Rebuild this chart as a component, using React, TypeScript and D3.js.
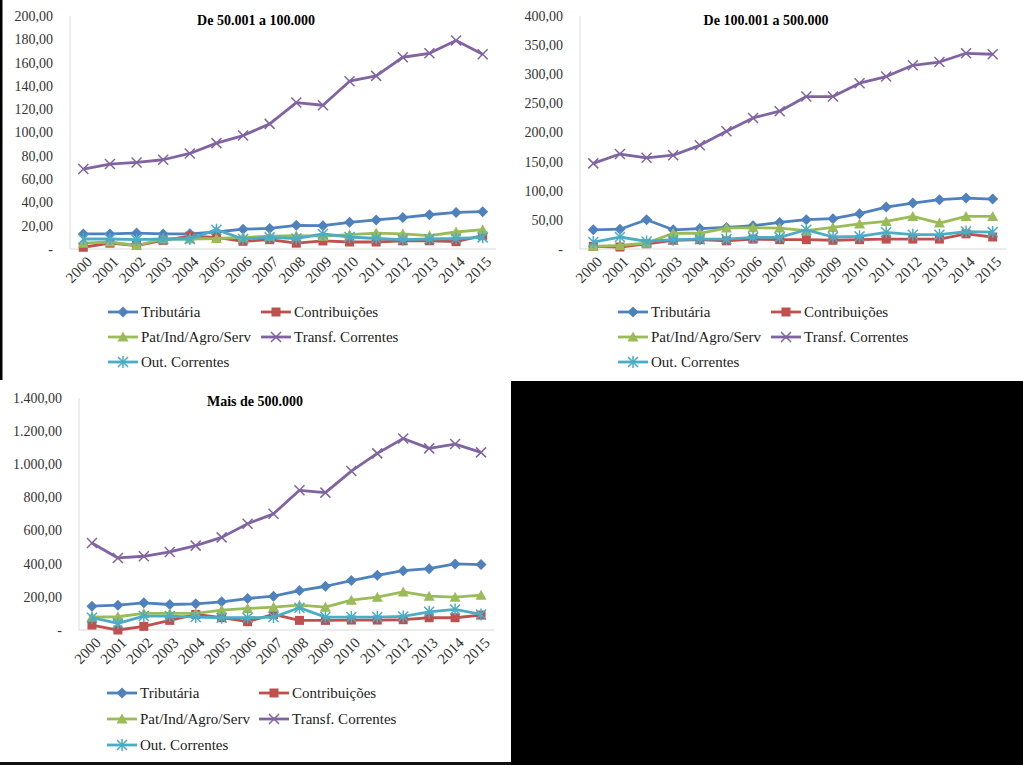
import React, { useEffect, useRef } from "react";
import * as d3 from "d3";

const years = ["2000", "2001", "2002", "2003", "2004", "2005", "2006", "2007", "2008", "2009", "2010", "2011", "2012", "2013", "2014", "2015"];

const seriesNames = ["Tributária", "Contribuições", "Pat/Ind/Agro/Serv", "Transf. Correntes", "Out. Correntes"];
const seriesColors = ["#4F81BD", "#C0504D", "#9BBB59", "#8064A2", "#4BACC6"];
const seriesMarkers = ["diamond", "square", "triangle", "x", "star"];

const titles = ["De 50.001 a 100.000", "De 100.001 a 500.000", "Mais de 500.000"];
const yMax = [200, 400, 1400];
const yStep = [20, 50, 200];

// De 50.001 a 100.000
const p1Tributaria = [12.9, 12.9, 13.7, 12.9, 13, 14.6, 17, 17.7, 20.3, 20, 22.9, 25, 27, 29.4, 31.4, 32];
const p1Contribuicoes = [1.5, 5, 3, 7.4, 11, 10, 6.6, 8, 5, 6.9, 6, 6, 7, 7, 6.3, 11.5];
const p1Pat = [5, 6, 3, 8.6, 8.6, 9, 10, 11, 11.4, 11, 12.3, 13.7, 12.9, 11.4, 14.6, 16.6];
const p1Transf = [68.6, 72.9, 74.3, 76.6, 82, 90.9, 97.4, 107.4, 125.7, 123.4, 144, 148.6, 164.6, 168, 178.9, 167.1];
const p1Out = [8.6, 8.6, 8, 8.6, 8.6, 16.6, 8.6, 10, 9, 12.9, 10.3, 9, 8, 8.6, 9, 10];

// De 100.001 a 500.000
const p2Tributaria = [33, 34, 50.3, 33, 35, 37, 40, 45.7, 50.3, 52, 60.6, 72, 78.9, 84.6, 87.4, 85.7];
const p2Contribuicoes = [4.6, 3.4, 9, 15, 16, 14, 17, 16, 16, 15, 16, 17, 17, 17, 26, 20.6];
const p2Pat = [4.6, 6, 10, 27, 27, 36, 36.6, 36, 31.4, 37, 43, 47.4, 56, 44.6, 56, 56];
const p2Transf = [147, 163, 156.6, 161, 178, 202, 225, 236.6, 261.7, 261.7, 284.6, 296, 315.4, 321, 336, 334.3];
const p2Out = [12, 20.6, 13, 16, 17, 17, 20, 20, 33, 20.6, 21.7, 28.6, 24.6, 24.6, 30, 29];

// Mais de 500.000
const p3Tributaria = [144, 150, 164, 154, 158, 170, 190, 204, 238, 264, 298, 330, 358, 370, 399, 395];
const p3Contribuicoes = [30, 0, 22, 58, 94, 74, 50, 94, 58, 58, 60, 60, 62, 74, 74, 90];
const p3Pat = [78, 80, 100, 100, 100, 120, 130, 138, 150, 138, 180, 198, 230, 204, 198, 210];
const p3Transf = [525, 435, 445, 471, 509, 559, 641, 701, 843, 829, 959, 1066, 1156, 1096, 1122, 1072];
const p3Out = [74, 40, 84, 84, 78, 74, 74, 78, 134, 78, 78, 78, 82, 110, 124, 94];

const panelData = [
  [p1Tributaria, p1Contribuicoes, p1Pat, p1Transf, p1Out],
  [p2Tributaria, p2Contribuicoes, p2Pat, p2Transf, p2Out],
  [p3Tributaria, p3Contribuicoes, p3Pat, p3Transf, p3Out],
];

// layout of each panel on the page
const layout = [
  { left: 70, right: 496, top: 16, bottom: 249, labelX: 53, titleX: 256, titleY: 25, legendY: [312, 337, 362], legendX: [108, 261] },
  { left: 580, right: 1006, top: 16, bottom: 249, labelX: 563, titleX: 766, titleY: 25, legendY: [312, 337, 362], legendX: [618, 771] },
  { left: 79, right: 494, top: 398, bottom: 630, labelX: 62, titleX: 255, titleY: 406, legendY: [693, 719, 745], legendX: [107, 259] },
];

const FONT = "Times New Roman, Liberation Serif, serif";

const fmt = (v: number) => {
  if (v === 0) return "-";
  const s = v.toFixed(2).split(".");
  return s[0].replace(/\B(?=(\d{3})+(?!\d))/g, ".") + "," + s[1];
};

const drawMarker = (g: any, type: string, x: number, y: number, color: string) => {
  if (type === "diamond") {
    g.append("path").attr("d", `M${x},${y - 5.5}L${x + 5.5},${y}L${x},${y + 5.5}L${x - 5.5},${y}Z`).attr("fill", color);
  } else if (type === "square") {
    g.append("rect").attr("x", x - 4.5).attr("y", y - 4.5).attr("width", 9).attr("height", 9).attr("fill", color);
  } else if (type === "triangle") {
    g.append("path").attr("d", `M${x},${y - 5.5}L${x + 5.5},${y + 4.5}L${x - 5.5},${y + 4.5}Z`).attr("fill", color);
  } else if (type === "x") {
    g.append("path").attr("d", `M${x - 5},${y - 5}L${x + 5},${y + 5}M${x - 5},${y + 5}L${x + 5},${y - 5}`).attr("stroke", color).attr("stroke-width", 1.5);
  } else {
    g.append("path")
      .attr("d", `M${x - 5},${y - 5}L${x + 5},${y + 5}M${x - 5},${y + 5}L${x + 5},${y - 5}M${x},${y - 6}L${x},${y + 6}`)
      .attr("stroke", color)
      .attr("stroke-width", 1.5);
  }
};

const App: React.FC = () => {
  const ref = useRef<SVGSVGElement | null>(null);

  useEffect(() => {
    if (!ref.current) return;
    const svg = d3.select(ref.current);
    svg.selectAll("*").remove();

    svg.append("rect").attr("width", 1023).attr("height", 765).attr("fill", "#fff");
    // black frame pieces of the original screenshot
    svg.append("rect").attr("x", 0).attr("y", 0).attr("width", 2.5).attr("height", 380).attr("fill", "#000");
    svg.append("rect").attr("x", 511).attr("y", 381).attr("width", 512).attr("height", 384).attr("fill", "#000");
    svg.append("rect").attr("x", 0).attr("y", 762).attr("width", 511).attr("height", 3).attr("fill", "#111");

    panelData.forEach((series, pi) => {
      const L = layout[pi];
      const g = svg.append("g").style("font-family", FONT);
      const x = d3.scalePoint<string>().domain(years).range([L.left, L.right]).padding(0.5);
      const y = d3.scaleLinear().domain([0, yMax[pi]]).range([L.bottom, L.top]);
      const ticks = d3.range(0, yMax[pi] + 0.001, yStep[pi]);

      g.selectAll("text.ytick")
        .data(ticks)
        .enter()
        .append("text")
        .attr("x", L.labelX)
        .attr("y", (d) => y(d))
        .attr("dy", "0.35em")
        .attr("text-anchor", "end")
        .attr("font-size", 14)
        .attr("fill", "#333")
        .text((d) => fmt(d));

      g.append("line").attr("x1", L.left).attr("x2", L.left).attr("y1", L.top).attr("y2", L.bottom).attr("stroke", "#D9D9D9");
      g.append("line").attr("x1", L.left).attr("x2", L.right).attr("y1", L.bottom).attr("y2", L.bottom).attr("stroke", "#D9D9D9");

      g.selectAll("text.xtick")
        .data(years)
        .enter()
        .append("text")
        .attr("transform", (d) => `translate(${(x(d) as number) + 6},${L.bottom + 10}) rotate(-45)`)
        .attr("text-anchor", "end")
        .attr("dy", "0.35em")
        .attr("font-size", 15)
        .attr("fill", "#333")
        .text((d) => d);

      g.append("text")
        .attr("x", L.titleX)
        .attr("y", L.titleY)
        .attr("text-anchor", "middle")
        .attr("font-weight", "bold")
        .attr("font-size", 14)
        .attr("fill", "#000")
        .text(titles[pi]);

      const line = d3
        .line<number>()
        .x((_, i) => x(years[i]) as number)
        .y((d) => y(d));

      series.forEach((vals, si) => {
        const sg = g.append("g");
        sg.append("path").attr("d", line(vals)).attr("fill", "none").attr("stroke", seriesColors[si]).attr("stroke-width", 2.8).attr("stroke-linejoin", "round");
        vals.forEach((v, i) => drawMarker(sg, seriesMarkers[si], x(years[i]) as number, y(v), seriesColors[si]));
      });

      // legend
      seriesNames.forEach((name, si) => {
        const lx = L.legendX[si % 2];
        const ly = L.legendY[Math.floor(si / 2)];
        const lg = g.append("g");
        lg.append("line").attr("x1", lx).attr("x2", lx + 30).attr("y1", ly).attr("y2", ly).attr("stroke", seriesColors[si]).attr("stroke-width", 2.8);
        drawMarker(lg, seriesMarkers[si], lx + 15, ly, seriesColors[si]);
        lg.append("text")
          .attr("x", lx + 33)
          .attr("y", ly)
          .attr("dy", "0.33em")
          .attr("font-size", 15)
          .attr("fill", "#222")
          .text(name);
      });
    });
  }, []);

  return (
    <div style={{ position: "absolute", left: 0, top: 0 }}>
      <svg ref={ref} width={1023} height={765} style={{ display: "block" }} />
    </div>
  );
};

export default App;
